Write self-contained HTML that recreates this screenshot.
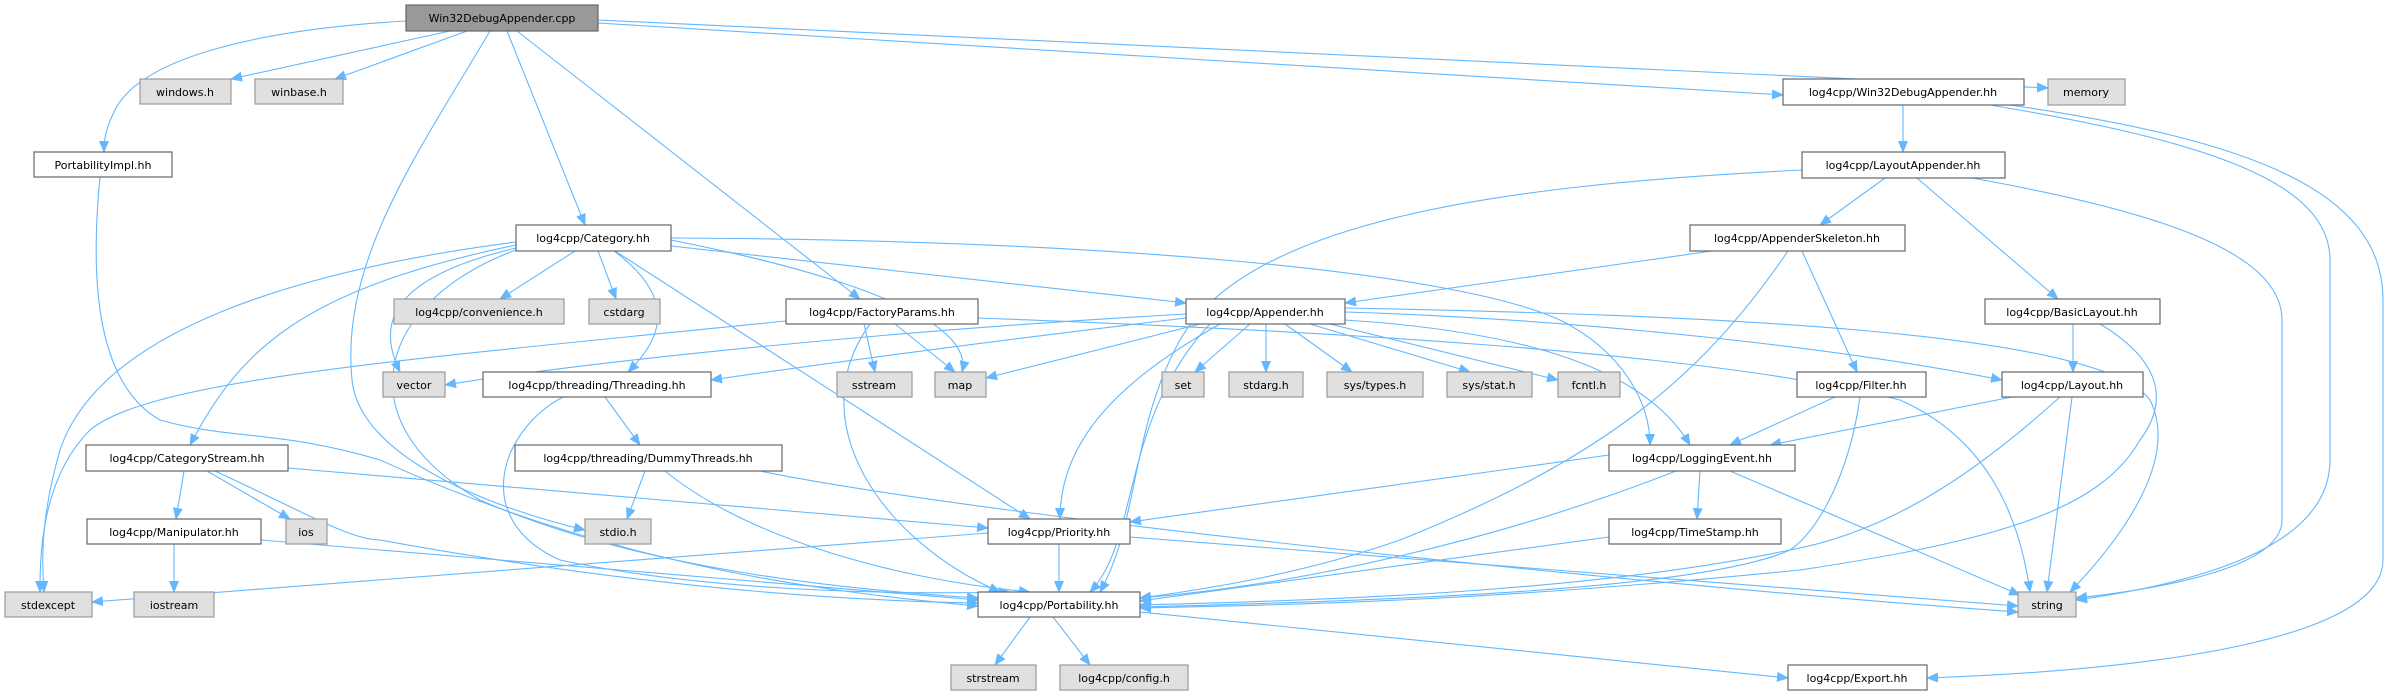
<!DOCTYPE html>
<html><head><meta charset="utf-8"><style>
html,body{margin:0;padding:0;background:#fff;}
svg{display:block;}
text{font-family:"DejaVu Sans","Liberation Sans",sans-serif;font-size:11px;fill:#000;}
.e{fill:none;stroke:#63b8ff;stroke-width:1.1;marker-end:url(#a);}
.n{fill:#fff;stroke:#666;stroke-width:1.2;}
.g{fill:#e0e0e0;stroke:#999;stroke-width:1.2;}
</style></head><body>
<svg width="2389" height="696" viewBox="0 0 2389 696" xmlns="http://www.w3.org/2000/svg">
<defs><marker id="a" markerUnits="userSpaceOnUse" markerWidth="12" markerHeight="10" refX="11" refY="5" orient="auto"><path d="M0,0 L12,5 L0,10 z" fill="#63b8ff"/></marker></defs>
<g>
<path class="e" d="M406,21 C250,30 140,60 115,110 C105,130 104,140 104,152"/>
<path class="e" d="M450,31 L231,79"/>
<path class="e" d="M467,31 L335,79"/>
<path class="e" d="M490,31 C420,150 340,260 352,380 C360,460 500,510 585,530"/>
<path class="e" d="M507,31 L585,225"/>
<path class="e" d="M517,31 L860,299"/>
<path class="e" d="M598,23 L1783,95"/>
<path class="e" d="M598,20 L2048,88"/>
<path class="e" d="M100,177 C92,260 90,380 160,420 C230,440 280,430 380,460 C600,560 800,590 978,606"/>
<path class="e" d="M575,251 L500,299"/>
<path class="e" d="M598,251 L616,299"/>
<path class="e" d="M516,248 C380,280 380,330 400,372"/>
<path class="e" d="M614,251 C680,300 660,340 628,372"/>
<path class="e" d="M516,242 C300,270 100,330 60,450 C40,520 42,560 44,592"/>
<path class="e" d="M516,245 C300,290 240,350 190,445"/>
<path class="e" d="M516,250 C380,300 340,420 480,500 C640,570 850,590 978,598"/>
<path class="e" d="M615,251 L1030,519"/>
<path class="e" d="M671,240 C720,250 980,300 962,372"/>
<path class="e" d="M671,246 L1186,303"/>
<path class="e" d="M671,238 C1100,240 1450,270 1560,320 C1620,350 1650,400 1650,445"/>
<path class="e" d="M786,321 C400,360 150,380 90,430 C40,480 40,560 40,592"/>
<path class="e" d="M864,324 L875,372"/>
<path class="e" d="M895,324 L955,372"/>
<path class="e" d="M870,324 C800,420 880,540 1000,592"/>
<path class="e" d="M978,318 C1300,330 1700,350 1900,400 C1990,440 2020,520 2030,592"/>
<path class="e" d="M1186,314 C900,330 600,360 445,385"/>
<path class="e" d="M1186,318 C1000,340 850,360 711,380"/>
<path class="e" d="M1200,324 L986,378"/>
<path class="e" d="M1220,324 C1120,380 1060,440 1060,519"/>
<path class="e" d="M1210,324 C1120,420 1140,540 1090,592"/>
<path class="e" d="M1250,324 L1195,372"/>
<path class="e" d="M1266,324 L1266,372"/>
<path class="e" d="M1285,324 L1352,372"/>
<path class="e" d="M1310,324 L1470,372"/>
<path class="e" d="M1330,324 L1558,380"/>
<path class="e" d="M1345,320 C1500,330 1640,360 1690,445"/>
<path class="e" d="M1345,312 C1600,320 1850,350 2002,380"/>
<path class="e" d="M1345,308 C1700,315 2100,330 2150,400 C2180,460 2120,540 2070,592"/>
<path class="e" d="M1903,105 L1903,152"/>
<path class="e" d="M1990,105 C2200,140 2330,180 2330,260 C2330,360 2330,420 2330,460 C2330,540 2220,580 2076,600"/>
<path class="e" d="M2010,105 C2250,140 2383,190 2383,300 C2383,420 2383,500 2383,560 C2383,640 2150,670 1927,678"/>
<path class="e" d="M1885,178 L1820,225"/>
<path class="e" d="M1917,178 L2058,299"/>
<path class="e" d="M1972,178 C2150,210 2282,250 2282,320 C2282,420 2282,500 2282,520 C2282,570 2150,590 2076,598"/>
<path class="e" d="M1802,170 C1500,185 1250,220 1180,340 C1130,430 1140,520 1100,592"/>
<path class="e" d="M1712,251 L1345,303"/>
<path class="e" d="M1802,251 L1857,372"/>
<path class="e" d="M1788,251 C1700,380 1600,460 1400,540 C1300,575 1200,590 1140,598"/>
<path class="e" d="M2100,324 C2160,360 2170,400 2140,440 C2100,510 2000,540 1800,570 C1500,600 1300,605 1140,608"/>
<path class="e" d="M1835,397 L1730,445"/>
<path class="e" d="M1860,397 C1850,470 1820,530 1790,550 C1700,590 1400,600 1140,607"/>
<path class="e" d="M2012,397 L1770,445"/>
<path class="e" d="M2072,397 L2047,592"/>
<path class="e" d="M2060,397 C1990,460 1900,530 1790,550 C1600,590 1350,600 1140,605"/>
<path class="e" d="M2073,324 L2073,372"/>
<path class="e" d="M1609,455 L1130,522"/>
<path class="e" d="M1700,471 L1697,519"/>
<path class="e" d="M1730,471 L2020,595"/>
<path class="e" d="M1676,471 C1500,540 1300,585 1140,598"/>
<path class="e" d="M1609,537 L1140,601"/>
<path class="e" d="M1059,544 L1059,592"/>
<path class="e" d="M988,533 L92,602"/>
<path class="e" d="M1130,537 L2018,606"/>
<path class="e" d="M1030,617 L995,665"/>
<path class="e" d="M1053,617 L1090,665"/>
<path class="e" d="M1140,612 L1788,678"/>
<path class="e" d="M605,397 L640,445"/>
<path class="e" d="M563,397 C500,430 470,520 560,560 C700,590 880,595 1010,592"/>
<path class="e" d="M645,471 L627,519"/>
<path class="e" d="M665,471 C750,540 900,580 1030,592"/>
<path class="e" d="M760,471 C1000,520 1700,590 2018,612"/>
<path class="e" d="M184,471 L176,519"/>
<path class="e" d="M207,471 L290,519"/>
<path class="e" d="M288,468 L988,528"/>
<path class="e" d="M215,471 C300,510 350,540 380,540 C600,580 800,600 978,603"/>
<path class="e" d="M174,544 L174,592"/>
<path class="e" d="M261,540 L978,600"/>
</g>
<g>
<rect x="406" y="5" width="192" height="26" fill="#999" stroke="#666" stroke-width="1.2"/><text x="502" y="22" text-anchor="middle">Win32DebugAppender.cpp</text>
<rect class="g" x="140" y="79" width="91" height="25"/><text x="185" y="96" text-anchor="middle">windows.h</text>
<rect class="g" x="255" y="79" width="88" height="25"/><text x="299" y="96" text-anchor="middle">winbase.h</text>
<rect class="n" x="34" y="152" width="138" height="25"/><text x="103" y="169" text-anchor="middle">PortabilityImpl.hh</text>
<rect class="n" x="516" y="225" width="155" height="26"/><text x="593" y="242" text-anchor="middle">log4cpp/Category.hh</text>
<rect class="g" x="394" y="299" width="170" height="25"/><text x="479" y="316" text-anchor="middle">log4cpp/convenience.h</text>
<rect class="g" x="589" y="299" width="71" height="25"/><text x="624" y="316" text-anchor="middle">cstdarg</text>
<rect class="n" x="786" y="299" width="192" height="25"/><text x="882" y="316" text-anchor="middle">log4cpp/FactoryParams.hh</text>
<rect class="n" x="1186" y="299" width="159" height="25"/><text x="1265" y="316" text-anchor="middle">log4cpp/Appender.hh</text>
<rect class="g" x="383" y="372" width="62" height="25"/><text x="414" y="389" text-anchor="middle">vector</text>
<rect class="n" x="483" y="372" width="228" height="25"/><text x="597" y="389" text-anchor="middle">log4cpp/threading/Threading.hh</text>
<rect class="g" x="837" y="372" width="75" height="25"/><text x="874" y="389" text-anchor="middle">sstream</text>
<rect class="g" x="935" y="372" width="51" height="25"/><text x="960" y="389" text-anchor="middle">map</text>
<rect class="g" x="1162" y="372" width="42" height="25"/><text x="1183" y="389" text-anchor="middle">set</text>
<rect class="g" x="1229" y="372" width="74" height="25"/><text x="1266" y="389" text-anchor="middle">stdarg.h</text>
<rect class="g" x="1327" y="372" width="96" height="25"/><text x="1375" y="389" text-anchor="middle">sys/types.h</text>
<rect class="g" x="1447" y="372" width="85" height="25"/><text x="1489" y="389" text-anchor="middle">sys/stat.h</text>
<rect class="g" x="1558" y="372" width="62" height="25"/><text x="1589" y="389" text-anchor="middle">fcntl.h</text>
<rect class="n" x="86" y="445" width="202" height="26"/><text x="187" y="462" text-anchor="middle">log4cpp/CategoryStream.hh</text>
<rect class="n" x="515" y="445" width="267" height="26"/><text x="648" y="462" text-anchor="middle">log4cpp/threading/DummyThreads.hh</text>
<rect class="n" x="87" y="519" width="174" height="25"/><text x="174" y="536" text-anchor="middle">log4cpp/Manipulator.hh</text>
<rect class="g" x="286" y="519" width="41" height="25"/><text x="306" y="536" text-anchor="middle">ios</text>
<rect class="g" x="585" y="519" width="66" height="25"/><text x="618" y="536" text-anchor="middle">stdio.h</text>
<rect class="g" x="5" y="592" width="87" height="25"/><text x="48" y="609" text-anchor="middle">stdexcept</text>
<rect class="g" x="134" y="592" width="80" height="25"/><text x="174" y="609" text-anchor="middle">iostream</text>
<rect class="n" x="988" y="519" width="142" height="25"/><text x="1059" y="536" text-anchor="middle">log4cpp/Priority.hh</text>
<rect class="n" x="978" y="592" width="162" height="25"/><text x="1059" y="609" text-anchor="middle">log4cpp/Portability.hh</text>
<rect class="g" x="951" y="665" width="85" height="25"/><text x="993" y="682" text-anchor="middle">strstream</text>
<rect class="g" x="1060" y="665" width="128" height="25"/><text x="1124" y="682" text-anchor="middle">log4cpp/config.h</text>
<rect class="g" x="2048" y="79" width="77" height="26"/><text x="2086" y="96" text-anchor="middle">memory</text>
<rect class="n" x="1783" y="79" width="241" height="26"/><text x="1903" y="96" text-anchor="middle">log4cpp/Win32DebugAppender.hh</text>
<rect class="n" x="1802" y="152" width="203" height="26"/><text x="1903" y="169" text-anchor="middle">log4cpp/LayoutAppender.hh</text>
<rect class="n" x="1690" y="225" width="215" height="26"/><text x="1797" y="242" text-anchor="middle">log4cpp/AppenderSkeleton.hh</text>
<rect class="n" x="1985" y="299" width="175" height="25"/><text x="2072" y="316" text-anchor="middle">log4cpp/BasicLayout.hh</text>
<rect class="n" x="1797" y="372" width="129" height="25"/><text x="1861" y="389" text-anchor="middle">log4cpp/Filter.hh</text>
<rect class="n" x="2002" y="372" width="141" height="25"/><text x="2072" y="389" text-anchor="middle">log4cpp/Layout.hh</text>
<rect class="n" x="1609" y="445" width="186" height="26"/><text x="1702" y="462" text-anchor="middle">log4cpp/LoggingEvent.hh</text>
<rect class="n" x="1609" y="519" width="172" height="25"/><text x="1695" y="536" text-anchor="middle">log4cpp/TimeStamp.hh</text>
<rect class="g" x="2018" y="592" width="58" height="25"/><text x="2047" y="609" text-anchor="middle">string</text>
<rect class="n" x="1788" y="665" width="139" height="25"/><text x="1857" y="682" text-anchor="middle">log4cpp/Export.hh</text>
</g>
</svg>
</body></html>
